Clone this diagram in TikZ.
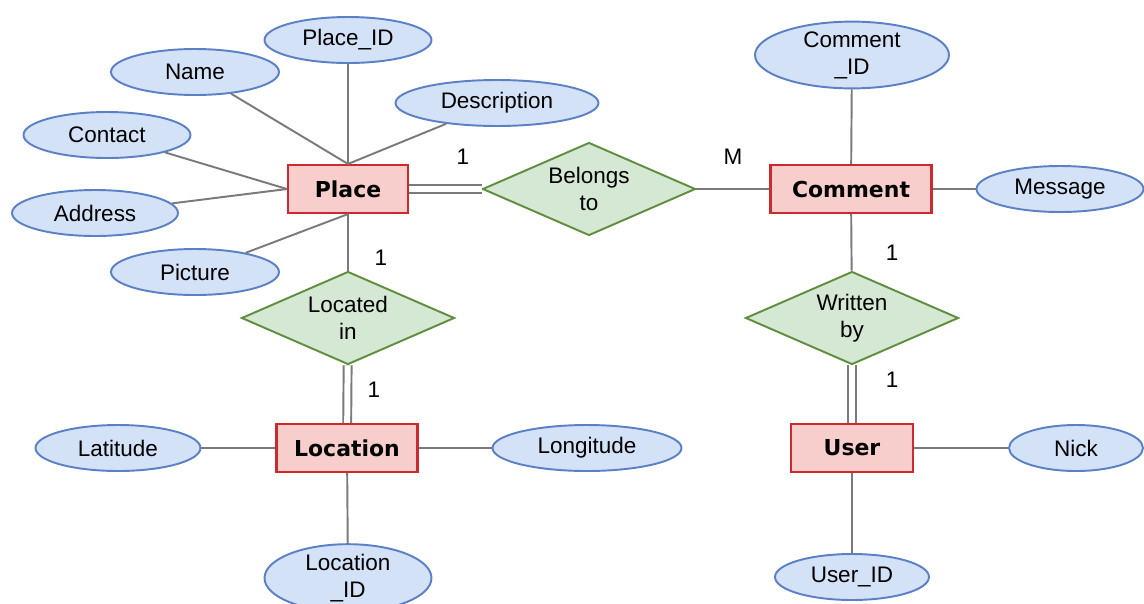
\documentclass[tikz,border=0pt]{standalone}
\usepackage{fontspec}
\setmainfont{Liberation Sans}
\newfontfamily\entityfont{DejaVu Sans}
\usetikzlibrary{shapes.geometric}

\definecolor{entfill}{HTML}{F8CECC}
\definecolor{entline}{HTML}{CC2A2E}
\definecolor{relfill}{HTML}{D5E8D4}
\definecolor{relline}{HTML}{5E8E3E}
\definecolor{attfill}{HTML}{D4E2F8}
\definecolor{attline}{HTML}{5B80C6}
\definecolor{linkgray}{HTML}{7A7A7A}

\tikzset{
  entity/.style={rectangle, draw=entline, fill=entfill, line width=1.2pt,
    minimum height=0.96cm, inner sep=0pt,
    font=\entityfont\bfseries\fontsize{12.5}{15}\selectfont},
  relation/.style={diamond, draw=relline, fill=relfill, line width=1.1pt,
    inner sep=0pt, aspect=2.2, minimum width=4.26cm, minimum height=1.86cm,
    align=center, font=\fontsize{12.8}{15.4}\selectfont},
  attribute/.style={ellipse, draw=attline, fill=attfill, line width=1.1pt,
    inner sep=0pt, minimum height=0.92cm, align=center,
    font=\fontsize{12.8}{15.4}\selectfont},
  link/.style={draw=linkgray, line width=1.1pt},
  twolink/.style={link, double=white, double distance=0.12cm},
  card/.style={font=\fontsize{12.8}{15.4}\selectfont}
}

\begin{document}
\begin{tikzpicture}[x=0.02cm, y=-0.02cm]
  \useasboundingbox (0,0) rectangle (1144,603);

  % entities
  \node[entity, minimum width=2.40cm] (place)    at (348,189) {Place};
  \node[entity, minimum width=3.22cm] (comment)  at (851,189) {Comment};
  \node[entity, minimum width=2.82cm] (location) at (347,448) {Location};
  \node[entity, minimum width=2.44cm] (user)     at (852,448) {User};

  % relations
  \node[relation] (belongs) at (589,189) {Belongs\\to};
  \node[relation] (located) at (348,318) {Located\\in};
  \node[relation] (written) at (852,318) {Written\\by};

  % attributes
  \node[attribute, minimum width=3.34cm] (placeid) at (348,40)  {Place\_ID};
  \node[attribute, minimum width=3.36cm] (name)    at (195,72)  {Name};
  \node[attribute, minimum width=4.06cm] (descr)   at (497,103) {Description};
  \node[attribute, minimum width=3.34cm] (contact) at (107,135) {Contact};
  \node[attribute, minimum width=3.32cm] (address) at (95,213)  {Address};
  \node[attribute, minimum width=3.36cm] (picture) at (195,272) {Picture};

  \node[attribute, minimum width=3.88cm, minimum height=1.20cm] (commentid) at (852,55) {Comment\\\_ID};
  \node[attribute, minimum width=3.34cm] (message) at (1060,189) {Message};

  \node[attribute, minimum width=3.30cm] (latitude)  at (118,448) {Latitude};
  \node[attribute, minimum width=3.78cm] (longitude) at (587,448) {Longitude};
  \node[attribute, minimum width=3.34cm, minimum height=1.20cm] (locationid) at (348,578) {Location\\\_ID};

  \node[attribute, minimum width=2.68cm] (nick)   at (1076,448) {Nick};
  \node[attribute, minimum width=3.08cm] (userid) at (852,577)  {User\_ID};

  % attribute links
  \draw[link] (placeid) -- (place.north);
  \draw[link] (name) -- (place.north);
  \draw[link] (descr) -- (place.north);
  \draw[link] (contact) -- (place.west);
  \draw[link] (address) -- (place.west);
  \draw[link] (picture) -- (place.south);
  \draw[link] (commentid) -- (comment);
  \draw[link] (comment) -- (message);
  \draw[link] (latitude) -- (location);
  \draw[link] (location) -- (longitude);
  \draw[link] (location) -- (locationid);
  \draw[link] (user) -- (nick);
  \draw[link] (user) -- (userid);

  % relation links
  \draw[twolink] (place) -- (belongs);
  \draw[link] (belongs) -- (comment);
  \draw[link] (place) -- (located);
  \draw[twolink] (located) -- (location);
  \draw[link] (comment) -- (written);
  \draw[twolink] (written) -- (user);

  % cardinalities
  \node[card] (c1) at (463,157) {1};
  \node[card] (c2) at (733,157) {M};
  \node[card] (c3) at (381,258) {1};
  \node[card] (c4) at (374,390) {1};
  \node[card] (c5) at (892,253) {1};
  \node[card] (c6) at (892,380) {1};
\end{tikzpicture}
\end{document}
